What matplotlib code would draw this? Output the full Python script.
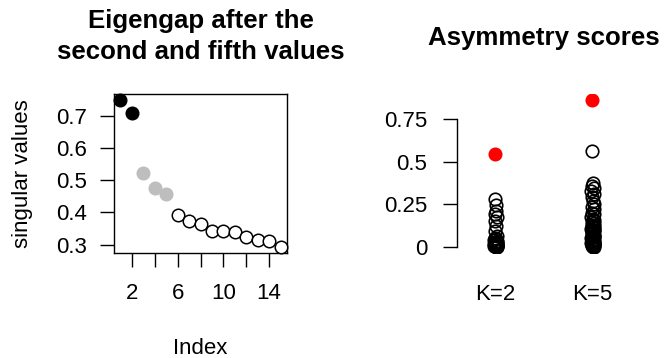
import matplotlib
matplotlib.use("Agg")
import matplotlib.pyplot as plt
import numpy as np

plt.rcParams['font.family'] = ['Liberation Sans', 'DejaVu Sans']

# ---- data ----
sv_index = list(range(1, 16))
sv_values = [0.750, 0.710, 0.523, 0.477, 0.457, 0.391, 0.373, 0.363,
             0.343, 0.342, 0.339, 0.323, 0.314, 0.310, 0.293]
sv_group = ['top', 'top', 'mid', 'mid', 'mid'] + ['rest'] * 10

groups = ['K=2', 'K=5']
k2_red = 0.543
k5_red = 0.863
k2_scores = [0.28, 0.245, 0.21, 0.19, 0.175, 0.15, 0.12, 0.09, 0.065, 0.05,
             0.045, 0.04, 0.035, 0.03, 0.027, 0.025, 0.022, 0.02, 0.018,
             0.016, 0.015, 0.013, 0.012, 0.011, 0.01, 0.009, 0.008, 0.007,
             0.006, 0.005, 0.004, 0.003, 0.002, 0.001, 0.0]
k5_scores = [0.563, 0.375, 0.36, 0.345, 0.33, 0.31, 0.29, 0.27, 0.25, 0.235,
             0.22, 0.2, 0.19, 0.175, 0.165, 0.155, 0.145, 0.14, 0.13, 0.125,
             0.12, 0.115, 0.11, 0.105, 0.1, 0.095, 0.09, 0.085, 0.08, 0.075,
             0.07, 0.065, 0.06, 0.055, 0.05, 0.045, 0.04, 0.035, 0.03, 0.027,
             0.025, 0.022, 0.02, 0.018, 0.015, 0.012, 0.01, 0.008, 0.005,
             0.003, 0.001, 0.0]
# small horizontal jitter (data units)
k2_jit = [0.0, 0.005, 0.01, 0.0, 0.015, -0.005, 0.01, 0.0, 0.02, 0.0,
          0.01, -0.01, 0.02, 0.0, 0.015, -0.005, 0.01, 0.0, 0.02, -0.01,
          0.01, 0.0, 0.015, -0.005, 0.02, 0.0, 0.01, -0.01, 0.02, 0.005,
          0.0, 0.015, -0.005, 0.01, 0.02]
k5_jit = [-0.005, 0.005, 0.0, 0.015, -0.01, 0.02, 0.0, 0.01, 0.025, -0.005,
          0.015, 0.0, 0.02, -0.01, 0.01, 0.025, 0.0, 0.015, -0.005, 0.02,
          0.01, 0.0, 0.025, -0.01, 0.015, 0.005, 0.02, 0.0, 0.01, -0.005,
          0.025, 0.015, 0.0, 0.02, -0.01, 0.01, 0.025, 0.005, 0.015, 0.0,
          0.02, -0.01, 0.01, 0.025, 0.0, 0.015, -0.005, 0.02, 0.01, 0.0,
          0.025, 0.005]

W, H = 665, 358
fig = plt.figure(figsize=(W / 100, H / 100), dpi=100)

def rect(l, r, t, b):
    return [l / W, 1 - b / H, (r - l) / W, (b - t) / H]

TICK_FS = 16
TITLE_FS = 18.6
MS = 9

# ---- left panel ----
ax1 = fig.add_axes(rect(114, 287, 94, 252.7))
colors = {'top': ('black', 'black'), 'mid': ('#BEBEBE', '#BEBEBE'), 'rest': ('white', 'black')}
for x, y, g in zip(sv_index, sv_values, sv_group):
    fc, ec = colors[g]
    ax1.plot([x], [y], 'o', ms=MS, mfc=fc, mec=ec, mew=1.1, zorder=3, clip_on=False)
xlo, xhi = min(sv_index), max(sv_index)
ylo, yhi = min(sv_values), max(sv_values)
ax1.set_xlim(xlo - 0.04 * (xhi - xlo), xhi + 0.04 * (xhi - xlo))
ax1.set_ylim(ylo - 0.04 * (yhi - ylo), yhi + 0.04 * (yhi - ylo))
ax1.set_xticks([2, 4, 6, 8, 10, 12, 14])
ax1.set_xticklabels(['2', '', '6', '', '10', '', '14'])
ax1.set_yticks([0.3, 0.4, 0.5, 0.6, 0.7])
ax1.set_yticklabels(['0.3', '0.4', '0.5', '0.6', '0.7'])
ax1.tick_params(axis='both', direction='out', length=10, width=1.0,
                labelsize=TICK_FS, color='black')
ax1.tick_params(axis='x', pad=12)
ax1.tick_params(axis='y', pad=9.5)
for s in ax1.spines.values():
    s.set_linewidth(1.0)
ax1.set_xlabel('Index', fontsize=TICK_FS)
ax1.xaxis.label.set_va('center')
ax1.xaxis.set_label_coords(0.5, (252.7 - 348) / (252.7 - 94))
ax1.set_ylabel('singular values', fontsize=TICK_FS)
ax1.yaxis.label.set_va('center')
ax1.yaxis.set_label_coords((22 - 114) / (287 - 114), 0.5)

fig.text(200.5 / W, 1 - 28 / H, 'Eigengap after the', ha='center', va='baseline',
         fontsize=TITLE_FS, fontweight='bold')
fig.text(200.5 / W, 1 - 59 / H, 'second and fifth values', ha='center', va='baseline',
         fontsize=TITLE_FS, fontweight='bold')

# ---- right panel ----
ax2 = fig.add_axes(rect(457.3, 630, 94, 252.7))
for i, (vals, jit, red) in enumerate([(k2_scores, k2_jit, k2_red),
                                      (k5_scores, k5_jit, k5_red)]):
    xs = [i + 1 + j for j in jit]
    ax2.plot(xs, vals, 'o', ls='none', ms=MS, mfc='none', mec='black', mew=1.2, zorder=3)
    ax2.plot([i + 1], [red], 'o', ms=MS, mfc='#FF0000', mec='#FF0000', mew=1.1, zorder=4)
allv = k2_scores + k5_scores + [k2_red, k5_red]
lo, hi = min(allv), max(allv)
ax2.set_ylim(lo - 0.04 * (hi - lo), hi + 0.04 * (hi - lo))
ax2.set_xlim(1 - 38 / 97, 2 + 38 / 97)
for side in ['top', 'right', 'bottom']:
    ax2.spines[side].set_visible(False)
ax2.spines['left'].set_bounds(0, 0.75)
ax2.spines['left'].set_linewidth(1.0)
ax2.set_yticks([0, 0.25, 0.5, 0.75])
ax2.set_yticklabels(['0', '0.25', '0.5', '0.75'])
ax2.tick_params(axis='y', direction='out', length=10, width=1.0, labelsize=TICK_FS, pad=11.5)
ax2.set_xticks([1, 2])
ax2.set_xticklabels(groups)
ax2.tick_params(axis='x', length=0, labelsize=TICK_FS, pad=22.5)

fig.text(543.5 / W, 1 - 45 / H, 'Asymmetry scores', ha='center', va='baseline',
         fontsize=TITLE_FS, fontweight='bold')

fig.savefig('out.png', dpi=100)
